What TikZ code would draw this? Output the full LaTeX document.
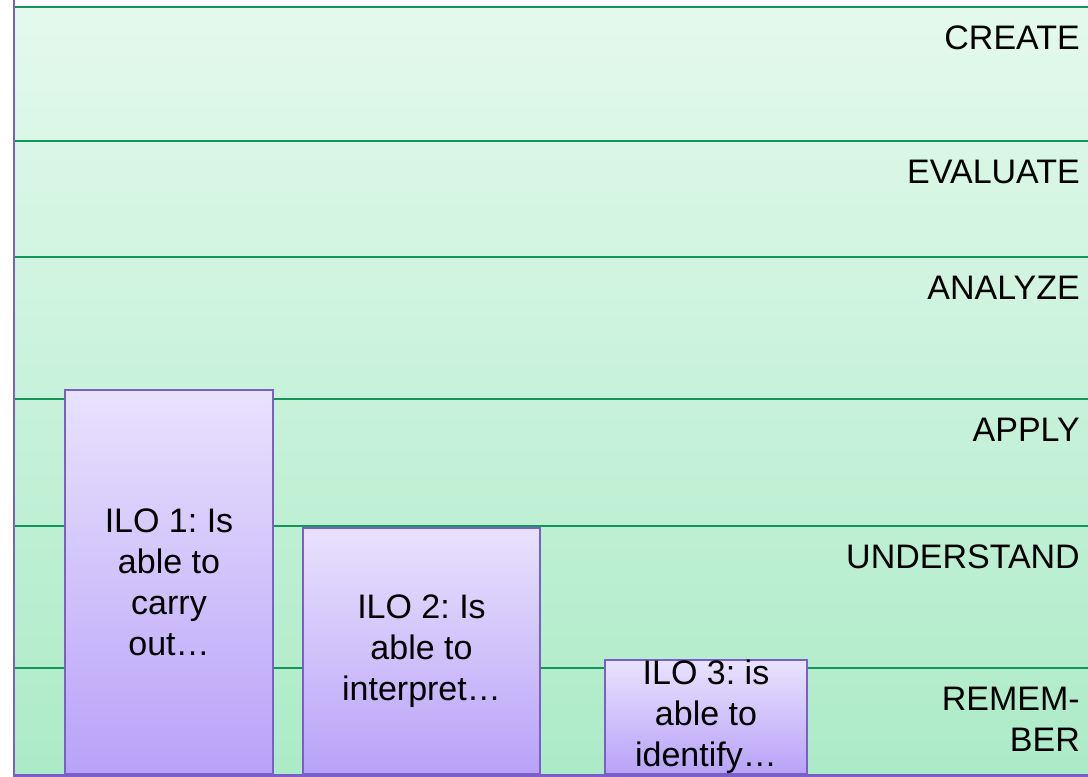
\documentclass[tikz,border=0pt]{standalone}
\usepackage{fontspec}
\setmainfont{Liberation Sans}
\frenchspacing
\definecolor{bandtop}{RGB}{228,249,237}
\definecolor{bandbot}{RGB}{172,235,199}
\definecolor{gridgreen}{RGB}{18,150,88}
\definecolor{edgepurple}{RGB}{124,94,200}
\definecolor{ilotop}{RGB}{233,226,253}
\definecolor{ilobot}{RGB}{184,162,248}
\begin{document}
\begin{tikzpicture}[x=1pt,y=-1pt,
  gline/.style={draw=gridgreen,line width=2pt},
  pline/.style={draw=edgepurple,line width=2.5pt},
  level/.style={anchor=base east,inner sep=0pt,align=right,
    font=\fontsize{34}{41}\selectfont},
  ilo/.style={draw=edgepurple,line width=2pt,top color=ilotop,bottom color=ilobot,
    anchor=south west,align=center,inner sep=0pt,
    font=\fontsize{34}{41}\selectfont}]
\useasboundingbox (0,0) rectangle (1088,777);
\fill[white] (0,0) rectangle (1088,777);
% taxonomy levels background
\shade[top color=bandtop,bottom color=bandbot] (14,7) rectangle (1088,775);
\foreach \yy in {7,141,257,399,526,668}
  \draw[gline] (14,\yy) -- (1088,\yy);
\draw[pline] (14,0) -- (14,777);
\draw[pline] (14,775.5) -- (1088,775.5);
% level names (base anchor sits on the last line)
\node[level] (create) at (1080,49) {CREATE};
\node[level] (evaluate) at (1080,183) {EVALUATE};
\node[level] (analyze) at (1080,299) {ANALYZE};
\node[level] (apply) at (1080,441) {APPLY};
\node[level] (understand) at (1080,568) {UNDERSTAND};
\node[level] (remember) at (1080,751) {REMEM-\\BER};
% learning outcomes
\node[ilo,minimum width=208pt,minimum height=384pt] (ilo1) at (64,775)
  {ILO 1: Is\\able to\\carry\\out…};
\node[ilo,minimum width=237pt,minimum height=246pt] (ilo2) at (302,775)
  {ILO 2: Is\\able to\\interpret…};
\node[ilo,minimum width=202pt,minimum height=111pt] (ilo3) at (604,775)
  {ILO 3: is\\able to\\identify…};
\end{tikzpicture}
\end{document}
